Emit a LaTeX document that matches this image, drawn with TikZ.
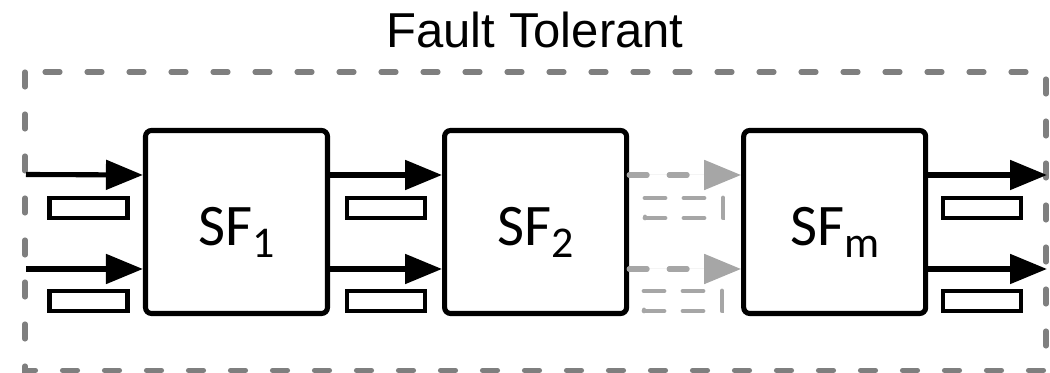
\documentclass[tikz,border=0pt]{standalone}
\usepackage{fontspec}
\setmainfont{Carlito}
\newfontfamily\titulofont{Liberation Sans}
\usetikzlibrary{arrows.meta,positioning}

\definecolor{grismarco}{HTML}{7F7F7F}
\definecolor{grisclaro}{HTML}{A6A6A6}

% Subindice de las etiquetas SF
\newcommand{\subsf}[1]{\raisebox{-0.2em}[0pt][0pt]{\fontsize{25}{30}\selectfont #1}}

\tikzset{
	caja/.style={draw, line width=2.9pt, rounded corners=0.12cm, minimum width=3.64cm, minimum height=3.66cm, inner sep=0pt, text height=0.95cm, font=\fontsize{33.5}{40}\selectfont},
	flecha/.style={line width=2.9pt, -{Triangle[length=0.74cm,width=0.58cm]}},
	flechagris/.style={flecha, draw=grisclaro, fill=grisclaro, line cap=round, dash pattern=on 0.36cm off 0.44cm},
	paquete/.style={draw, line width=2.7pt, minimum width=1.56cm, minimum height=0.4cm, inner sep=0pt},
	paquetegris/.style={paquete, draw=grisclaro, line cap=round, dash pattern=on 0.4cm off 0.38cm},
	marco/.style={draw=grismarco, line width=2.9pt, line cap=round, dash pattern=on 0.3cm off 0.54cm}
}

\begin{document}
\begin{tikzpicture}
	
	\useasboundingbox (0,0) rectangle (21,7.46);
	
	% Titulo y rectangulo punteado que enmarca todo el diagrama
	\node[font=\titulofont\fontsize{27.9}{33}\selectfont, anchor=base] (titulo) at (10.7,6.5) {Fault Tolerant};
	\draw[marco] (0.5,6.02) rectangle (20.92,0.05);
	
	% Cajas de las funciones de servicio
	\node[caja] (SF1) at (4.73,3.02) {SF\subsf{1}};
	\node[caja, right=2.24cm of SF1] (SF2) {SF\subsf{2}};
	\node[caja, right=2.24cm of SF2] (SFm) {SF\subsf{m}};
	
	% Extremos libres de las flechas de entrada y salida
	\coordinate (ent1) at (0.52,3.97);
	\coordinate (ent2) at (0.52,2.08);
	\coordinate (sal1) at (20.94,3.96);
	\coordinate (sal2) at (20.94,2.08);
	
	% Flechas de entrada y entre SF1 y SF2
	\draw[flecha] (ent1) -- ([yshift=0.94cm]SF1.west);
	\draw[flecha] (ent2) -- ([yshift=-0.94cm]SF1.west);
	\draw[flecha] ([yshift=0.94cm]SF1.east) -- ([yshift=0.94cm]SF2.west);
	\draw[flecha] ([yshift=-0.94cm]SF1.east) -- ([yshift=-0.94cm]SF2.west);
	
	% Flechas grises (tramo intermedio) entre SF2 y SFm
	\draw[flechagris] ([yshift=0.94cm]SF2.east) -- ([yshift=0.94cm]SFm.west);
	\draw[flechagris] ([yshift=-0.94cm]SF2.east) -- ([yshift=-0.94cm]SFm.west);
	
	% Flechas de salida
	\draw[flecha] ([yshift=0.94cm]SFm.east) -- (sal1);
	\draw[flecha] ([yshift=-0.94cm]SFm.east) -- (sal2);
	
	% Paquetes debajo de cada flecha
	\node[paquete] (pe1) at (1.77,3.3) {};
	\node[paquete] (pe2) at (1.77,1.44) {};
	\node[paquete] (pa1) at (7.72,3.3) {};
	\node[paquete] (pa2) at (7.72,1.44) {};
	\node[paquetegris] (pb1) at (13.68,3.3) {};
	\node[paquetegris] (pb2) at (13.66,1.44) {};
	\node[paquete] (ps1) at (19.64,3.3) {};
	\node[paquete] (ps2) at (19.64,1.44) {};
	
\end{tikzpicture}
\end{document}
